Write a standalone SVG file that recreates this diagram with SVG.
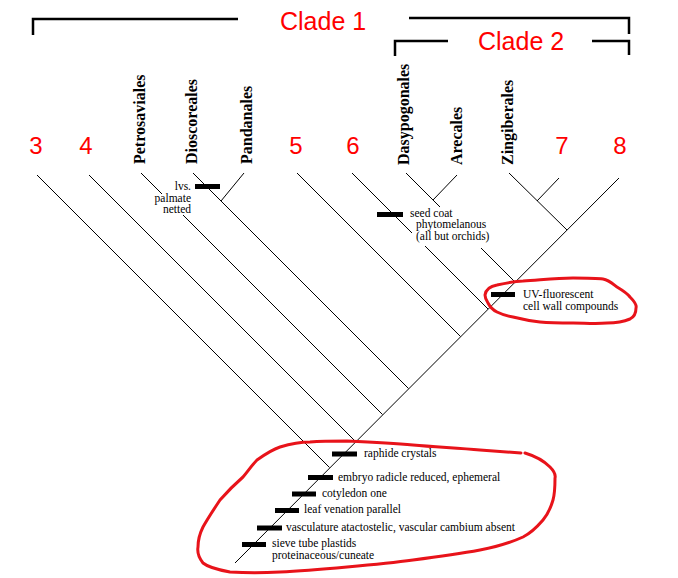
<svg xmlns="http://www.w3.org/2000/svg" width="678" height="578" viewBox="0 0 678 578">
<style>
.br{fill:none;stroke:#000;stroke-width:2.5}
.ln{fill:none;stroke:#000;stroke-width:1}
.red{fill:#f00;font-family:"Liberation Sans",Arial,sans-serif}
.clade{font-size:25px}
.num{font-size:24px;text-anchor:middle}
.ord{font-family:"Liberation Serif","Times New Roman",serif;font-weight:bold;font-size:16px;fill:#000}
.lab{font-family:"Liberation Serif","Times New Roman",serif;font-size:11.5px;fill:#000}
.bar{fill:#000}
.loop{fill:none;stroke:#e8131a;stroke-width:3;stroke-linecap:round;stroke-linejoin:round}
</style>
<rect width="678" height="578" fill="#fff"/>

<g id="clade1">
<path class="br" d="M33,35 V19 H238"/>
<path class="br" d="M409,18 H629 V34"/>
<text class="red clade" x="280" y="30">Clade 1</text>
</g>
<g id="clade2">
<path class="br" d="M395,56 V41 H448"/>
<path class="br" d="M592,41 H629 V55"/>
<text class="red clade" x="478" y="50">Clade 2</text>
</g>

<g id="connectors">
<line class="ln" x1="619" y1="178" x2="235" y2="563"/>
<line class="ln" x1="37" y1="175" x2="329.5" y2="467.5"/>
<line class="ln" x1="89" y1="175" x2="355.5" y2="441.5"/>
<line class="ln" x1="141" y1="173" x2="162" y2="194"/>
<line class="ln" x1="183" y1="215" x2="382.5" y2="414.5"/>
<line class="ln" x1="193" y1="173" x2="408.5" y2="388.5"/>
<line class="ln" x1="244" y1="173" x2="221" y2="201"/>
<line class="ln" x1="297" y1="173" x2="460.5" y2="336.5"/>
<line class="ln" x1="352" y1="173" x2="412" y2="233"/>
<line class="ln" x1="425" y1="246" x2="488" y2="309"/>
<line class="ln" x1="406" y1="173" x2="440" y2="207"/>
<line class="ln" x1="481" y1="248" x2="515" y2="282"/>
<line class="ln" x1="457" y1="175" x2="433" y2="200"/>
<line class="ln" x1="509" y1="173" x2="567" y2="230"/>
<line class="ln" x1="559" y1="178" x2="537" y2="201"/>
</g>

<g id="n3"><text class="red num" x="36" y="154">3</text></g>
<g id="n4"><text class="red num" x="86" y="154">4</text></g>
<g id="petrosaviales"><text class="ord" transform="translate(145,164) rotate(-90)">Petrosaviales</text></g>
<g id="dioscoreales"><text class="ord" transform="translate(197,164) rotate(-90)">Dioscoreales</text></g>
<g id="pandanales"><text class="ord" transform="translate(252,164) rotate(-90)">Pandanales</text></g>
<g id="n5"><text class="red num" x="296" y="154">5</text></g>
<g id="n6"><text class="red num" x="353" y="154">6</text></g>
<g id="dasypogonales"><text class="ord" transform="translate(409,165) rotate(-90)">Dasypogonales</text></g>
<g id="arecales"><text class="ord" transform="translate(462,165) rotate(-90)">Arecales</text></g>
<g id="zingiberales"><text class="ord" transform="translate(513,165) rotate(-90)">Zingiberales</text></g>
<g id="n7"><text class="red num" x="562" y="154">7</text></g>
<g id="n8"><text class="red num" x="620" y="154">8</text></g>

<g id="char-leaves">
<rect class="bar" x="195" y="184" width="25" height="5"/>
<text class="lab" text-anchor="end" x="191" y="190">lvs.</text>
<text class="lab" text-anchor="end" x="191" y="202">palmate</text>
<text class="lab" text-anchor="end" x="191" y="213">netted</text>
</g>
<g id="char-seedcoat">
<rect class="bar" x="377" y="212" width="26" height="5"/>
<text class="lab" x="410" y="217">seed coat</text>
<text class="lab" x="416" y="228">phytomelanous</text>
<text class="lab" x="416" y="240">(all but orchids)</text>
</g>
<g id="char-uv">
<rect class="bar" x="491" y="292" width="24" height="5"/>
<text class="lab" x="523" y="298">UV-fluorescent</text>
<text class="lab" x="523" y="310">cell wall compounds</text>
<path class="loop" d="M485,295 C486,289 491,286 497,285 C506,283 515,281 523,281 C540,280 556,278 573,278 C585,278 596,278 603,279 C609,280 613,284 617,287 C622,290 627,293 630,297 C634,301 637,305 636,308 C636,313 634,317 630,319 C623,322 615,323 607,323 C596,324 584,323 573,323 C562,323 551,323 540,322 C531,321 521,319 513,317 C507,316 501,314 497,312 C493,310 490,307 488,303 C486,300 485,297 485,295 Z"/>
</g>
<g id="char-monocots">
<rect class="bar" x="332" y="451.5" width="25" height="5"/>
<text class="lab" x="364" y="457">raphide crystals</text>
<rect class="bar" x="308" y="475" width="25" height="5"/>
<text class="lab" x="338" y="481">embryo radicle reduced, ephemeral</text>
<rect class="bar" x="292" y="491.5" width="24" height="5"/>
<text class="lab" x="322" y="497">cotyledon one</text>
<rect class="bar" x="275" y="508" width="24" height="5"/>
<text class="lab" x="304" y="513">leaf venation parallel</text>
<rect class="bar" x="257" y="525.5" width="25" height="5"/>
<text class="lab" x="286" y="531">vasculature atactostelic, vascular cambium absent</text>
<rect class="bar" x="242" y="542" width="24" height="5"/>
<text class="lab" x="272" y="547">sieve tube plastids</text>
<text class="lab" x="272" y="559">proteinaceous/cuneate</text>
<path class="loop" d="M525,453 C535,456 544,461 550,467 C554,471 556,474 555,478 C555,486 555,493 553,500 C551,507 548,514 543,520 C537,527 531,533 523,537 C510,543 495,547 480,550 C458,554 436,557 413,560 C391,563 369,565 347,567 C325,569 302,571 280,572 C263,573 246,573 230,572 C219,570 209,568 203,563 C199,558 197,553 198,547 C198,540 200,533 203,527 C208,518 214,509 220,500 C227,492 235,484 243,477 C248,471 252,465 257,460 C264,455 271,450 280,447 C290,444 300,442 310,442 C322,441 335,441 347,441 C369,442 391,443 413,445 C435,447 458,448 480,450 C494,451 508,452 521,453"/>
</g>
</svg>
